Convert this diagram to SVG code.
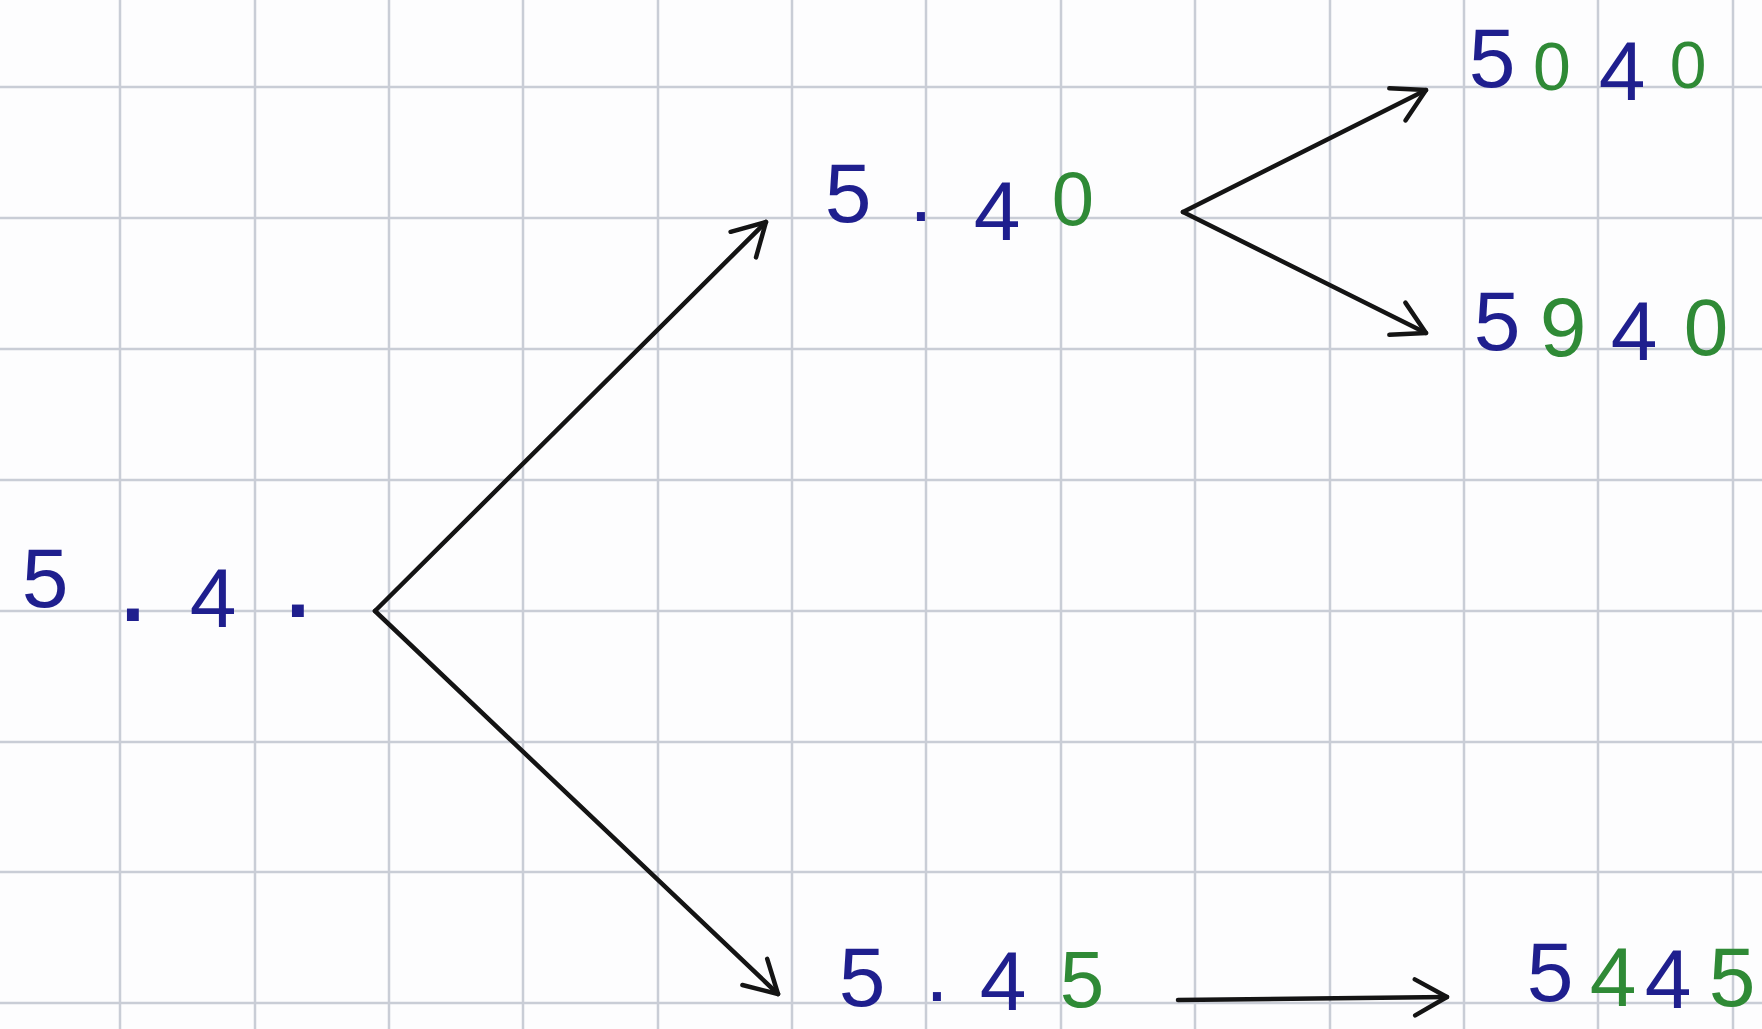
<svg xmlns="http://www.w3.org/2000/svg" width="1762" height="1029" viewBox="0 0 1762 1029">
  <style>
    .grid line { stroke: #c9cdd6; stroke-width: 2.5; }
    .conn { stroke: #141414; stroke-width: 4.5; fill: none; stroke-linecap: round; marker-end: url(#open); }
    .lbl { font-family: "Liberation Sans", Arial, sans-serif; font-size: 84px; text-anchor: middle; }
    .b { fill: #1f1f8e; }
    .g { fill: #2f8a36; }
    .dot { font-weight: bold; }
  </style>
  <defs>
    <marker id="open" viewBox="0 0 40 44" refX="36" refY="22" markerWidth="40" markerHeight="44" markerUnits="userSpaceOnUse" orient="auto">
      <path d="M4,4 L36,22 L4,40" fill="none" stroke="#141414" stroke-width="4.5" stroke-linecap="round" stroke-linejoin="round"/>
    </marker>
  </defs>
  <rect x="0" y="0" width="1762" height="1029" fill="#fdfdfe"/>
  <g id="grid" class="grid">
    <line x1="120" y1="0" x2="120" y2="1029"/>
    <line x1="255" y1="0" x2="255" y2="1029"/>
    <line x1="389" y1="0" x2="389" y2="1029"/>
    <line x1="523" y1="0" x2="523" y2="1029"/>
    <line x1="658" y1="0" x2="658" y2="1029"/>
    <line x1="792" y1="0" x2="792" y2="1029"/>
    <line x1="926" y1="0" x2="926" y2="1029"/>
    <line x1="1061" y1="0" x2="1061" y2="1029"/>
    <line x1="1195" y1="0" x2="1195" y2="1029"/>
    <line x1="1330" y1="0" x2="1330" y2="1029"/>
    <line x1="1464" y1="0" x2="1464" y2="1029"/>
    <line x1="1598" y1="0" x2="1598" y2="1029"/>
    <line x1="1733" y1="0" x2="1733" y2="1029"/>
    <line x1="0" y1="87" x2="1762" y2="87"/>
    <line x1="0" y1="218" x2="1762" y2="218"/>
    <line x1="0" y1="349" x2="1762" y2="349"/>
    <line x1="0" y1="480" x2="1762" y2="480"/>
    <line x1="0" y1="611" x2="1762" y2="611"/>
    <line x1="0" y1="742" x2="1762" y2="742"/>
    <line x1="0" y1="872" x2="1762" y2="872"/>
    <line x1="0" y1="1003" x2="1762" y2="1003"/>
  </g>
  <g id="connectors">
    <line class="conn" x1="375" y1="611" x2="766" y2="222"/>
    <line class="conn" x1="375" y1="611" x2="778" y2="994"/>
    <line class="conn" x1="1183" y1="212" x2="1426" y2="90"/>
    <line class="conn" x1="1183" y1="212" x2="1426" y2="333"/>
    <line class="conn" x1="1178" y1="1000" x2="1447" y2="997"/>
  </g>
  <g id="node-5-4">
    <text class="lbl"><tspan class="b" x="45" y="607">5</tspan><tspan class="b dot" x="133" y="621">.</tspan><tspan class="b" x="213" y="627">4</tspan><tspan class="b dot" x="298" y="617">.</tspan></text>
  </g>
  <g id="node-5-40">
    <text class="lbl"><tspan class="b" x="848" y="222">5</tspan><tspan class="b" x="921" y="221">.</tspan><tspan class="b" x="997" y="240">4</tspan><tspan class="g" x="1073" y="225" font-size="76">0</tspan></text>
  </g>
  <g id="node-5040">
    <text class="lbl"><tspan class="b" x="1492" y="87">5</tspan><tspan class="g" x="1552" y="90" font-size="68">0</tspan><tspan class="b" x="1622" y="100">4</tspan><tspan class="g" x="1688" y="88" font-size="66">0</tspan></text>
  </g>
  <g id="node-5940">
    <text class="lbl"><tspan class="b" x="1497" y="350">5</tspan><tspan class="g" x="1563" y="356">9</tspan><tspan class="b" x="1634" y="360">4</tspan><tspan class="g" x="1706" y="355" font-size="80">0</tspan></text>
  </g>
  <g id="node-5-45">
    <text class="lbl"><tspan class="b" x="862" y="1006">5</tspan><tspan class="b" x="937" y="1001">.</tspan><tspan class="b" x="1003" y="1010">4</tspan><tspan class="g" x="1082" y="1007" font-size="80">5</tspan></text>
  </g>
  <g id="node-5445">
    <text class="lbl"><tspan class="b" x="1550" y="1001">5</tspan><tspan class="g" x="1613" y="1006">4</tspan><tspan class="b" x="1668" y="1008">4</tspan><tspan class="g" x="1732" y="1006">5</tspan></text>
  </g>
</svg>
